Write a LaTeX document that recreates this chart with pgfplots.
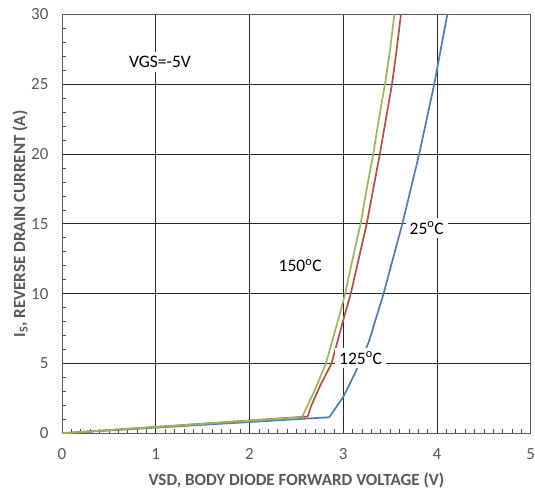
\documentclass[border=0pt]{standalone}
\usepackage{fontspec}
\setmainfont{Carlito}
\usepackage{pgfplots}
\pgfplotsset{compat=1.18}
\definecolor{c25}{HTML}{4A7EBB}
\definecolor{c125}{HTML}{BE4B48}
\definecolor{c150}{HTML}{98B954}
\definecolor{txtgray}{HTML}{595959}
\begin{document}
\begin{tikzpicture}
\begin{axis}[
    scale only axis,
    width=468.8pt, height=419pt,
    xmin=0, xmax=5,
    ymin=0, ymax=30,
    xtick={0,1,2,3,4,5},
    ytick={0,5,10,15,20,25,30},
    minor x tick num=9,
    minor y tick num=4,
    xtick pos=bottom, ytick pos=left,
    grid=major,
    major grid style={black!85, line width=0.8pt},
    axis line style={black!65, line width=0.8pt},
    major tick length=0pt, minor tick length=4.5pt,
    tick align=inside,
    minor tick style={black!70, line width=0.6pt},
    /pgf/number format/assume math mode=true,
    tick label style={font=\fontsize{17}{20}\selectfont, text=txtgray},
    xticklabel style={yshift=-12pt},
    yticklabel style={xshift=-10pt},
    xlabel={VSD, BODY DIODE FORWARD VOLTAGE (V)},
    ylabel={I\textsubscript{S}, REVERSE DRAIN CURRENT (A)},
    label style={font=\bfseries\fontsize{17}{20}\selectfont, text=txtgray},
    xlabel style={at={(rel axis cs:0.5,-0.1251)}, anchor=base},
    ylabel style={at={(rel axis cs:-0.0789,0.5)}, anchor=base},
]

% 25 C
\addplot[color=c25, line width=1.7pt] coordinates {
(0,0) (2.85,1.15) (3.0,2.6) (3.125,4.3) (3.27,6.5) (3.43,10)
(3.53,12.5) (3.63,15) (3.72,17.5) (3.81,20) (3.89,22.5)
(3.97,25) (4.04,27.5) (4.11,30)
};

% 125 C
\addplot[color=c125, line width=1.7pt] coordinates {
(0,0) (2.62,1.2) (2.66,2.0) (2.76,3.5) (2.875,5) (3.02,8.6)
(3.08,10) (3.165,12.5) (3.25,15) (3.32,17.5) (3.39,20)
(3.455,22.5) (3.52,25) (3.57,27.5) (3.615,30)
};

% 150 C
\addplot[color=c150, line width=1.7pt] coordinates {
(0,0) (2.56,1.15) (2.69,3.0) (2.815,5) (2.965,8.6) (3.02,10)
(3.10,12.5) (3.185,15) (3.25,17.5) (3.32,20) (3.38,22.5)
(3.445,25) (3.50,27.5) (3.545,30)
};

\node[fill=white, inner sep=4pt, font=\fontsize{17.5}{20}\selectfont] at (axis cs:1.045,26.6) {VGS=-5V};
\node[inner sep=4pt, font=\fontsize{17.5}{20}\selectfont] at (axis cs:2.54,12.0) {150\textsuperscript{o}C};
\node[fill=white, inner sep=4pt, font=\fontsize{17.5}{20}\selectfont] at (axis cs:3.185,5.38) {125\textsuperscript{o}C};
\node[fill=white, inner sep=4pt, font=\fontsize{17.5}{20}\selectfont] at (axis cs:3.89,14.7) {25\textsuperscript{o}C};

\end{axis}
\pgfresetboundingbox
\path[use as bounding box]
    ([shift={(-62pt,-55.7pt)}]current axis.south west)
    rectangle ([shift={(4.2pt,14.3pt)}]current axis.north east);
\end{tikzpicture}
\end{document}
